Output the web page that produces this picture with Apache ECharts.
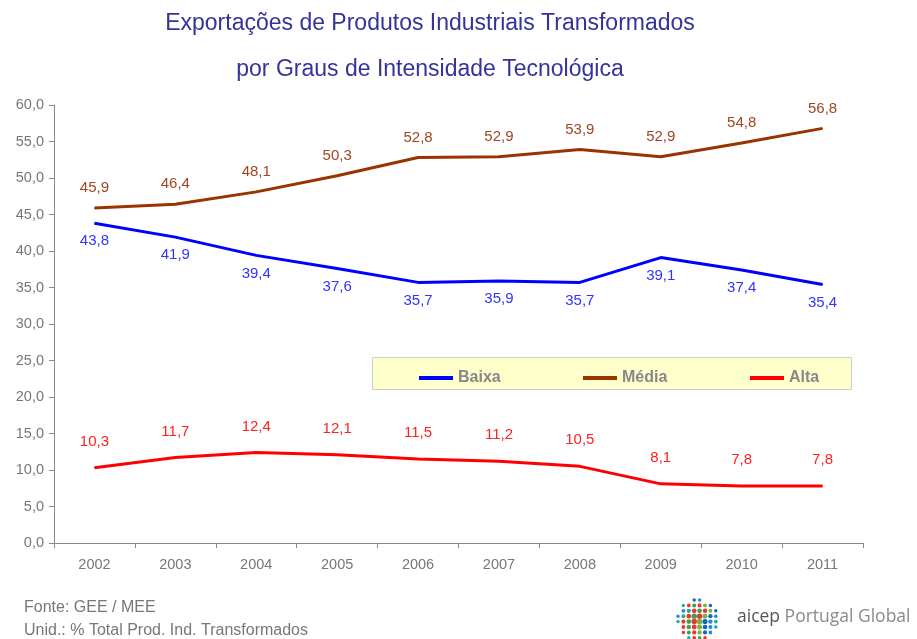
<!DOCTYPE html>
<html>
<head>
<meta charset="utf-8">
<title>Exportações por Graus de Intensidade Tecnológica</title>
<script src="https://cdn.jsdelivr.net/npm/echarts@6/dist/echarts.min.js"></script>
<style>
  html, body { margin: 0; padding: 0; background: #fff; }
  #chart { width: 917px; height: 639px; }
</style>
</head>
<body>
<div id="chart"></div>
<script>
// dados
const years = ['2002', '2003', '2004', '2005', '2006', '2007', '2008', '2009', '2010', '2011']
const baixa = [43.8, 41.9, 39.4, 37.6, 35.7, 35.9, 35.7, 39.1, 37.4, 35.4]
const media = [45.9, 46.4, 48.1, 50.3, 52.8, 52.9, 53.9, 52.9, 54.8, 56.8]
const alta = [10.3, 11.7, 12.4, 12.1, 11.5, 11.2, 10.5, 8.1, 7.8, 7.8]

const FONT = '"Liberation Sans", Arial, sans-serif'
const fmt = v => v.toFixed(1).replace('.', ',')

// pontinhos do logótipo (decoração)
function logoDots(cx, cy, r) {
  const colors = ['#e53935', '#1e88e5', '#43a047', '#1565c0', '#e53935', '#7cb342', '#26a69a']
  const dots = []
  let k = 0
  const step = 5.4
  for (let y = -r; y <= r + 0.1; y += step) {
    for (let x = -r; x <= r + 0.1; x += step) {
      const d = Math.sqrt(x * x + y * y)
      if (d > r + 1) continue
      const size = 1.7 + (1 - d / r) * 1.3
      dots.push({
        type: 'circle',
        shape: { cx: cx + x, cy: cy + y, r: size },
        style: { fill: colors[(k * 5 + 3) % colors.length] }
      })
      k++
    }
  }
  return dots
}

const chart = echarts.init(document.getElementById('chart'), null, { renderer: 'canvas' })

function lineSeries(name, data, color, labelColor, pos, dist) {
  return {
    name: name,
    type: 'line',
    data: data,
    symbol: 'circle',
    symbolSize: 1,
    lineStyle: { color: color, width: 3 },
    itemStyle: { color: color },
    label: {
      show: true,
      position: pos,
      distance: dist,
      color: labelColor,
      fontSize: 15,
      fontFamily: FONT,
      formatter: p => fmt(p.value)
    },
    emphasis: { disabled: true },
    animation: false
  }
}

function legendAt(left, name) {
  return {
    left: left,
    top: 365,
    data: [name],
    icon: 'rect',
    itemWidth: 34,
    itemHeight: 4,
    itemGap: 5,
    selectedMode: false,
    textStyle: { color: '#888', fontSize: 16, fontWeight: 'bold', fontFamily: FONT }
  }
}

const option = {
  backgroundColor: '#fff',
  title: {
    text: 'Exportações de Produtos Industriais Transformados\npor Graus de Intensidade Tecnológica',
    left: 425,
    textAlign: 'center',
    top: -4,
    textStyle: {
      color: '#333399',
      fontSize: 23,
      fontWeight: 'normal',
      fontFamily: FONT,
      lineHeight: 46
    }
  },
  grid: { left: 54, right: 54, top: 105, bottom: 96 },
  legend: [
    legendAt(414, 'Baixa'),
    legendAt(578, 'Média'),
    legendAt(745, 'Alta')
  ],
  xAxis: {
    type: 'category',
    data: years,
    boundaryGap: true,
    axisLine: { lineStyle: { color: '#888', width: 1 } },
    axisTick: { show: true, length: 5, lineStyle: { color: '#888' } },
    axisLabel: { color: '#777', fontSize: 14.5, fontFamily: FONT, margin: 14 }
  },
  yAxis: {
    type: 'value',
    min: 0,
    max: 60,
    interval: 5,
    axisLine: { show: true, lineStyle: { color: '#888', width: 1 } },
    axisTick: { show: true, length: 5, lineStyle: { color: '#888' } },
    splitLine: { show: false },
    axisLabel: { color: '#777', fontSize: 14.5, fontFamily: FONT, margin: 10, formatter: v => fmt(v) }
  },
  series: [
    lineSeries('Baixa', baixa, '#0000ff', '#3333ff', 'bottom', 10),
    lineSeries('Média', media, '#993300', '#a0461e', 'top', 12),
    lineSeries('Alta', alta, '#ff0000', '#ff2020', 'top', 18)
  ],
  graphic: [
    {
      type: 'rect',
      z: -1,
      shape: { x: 372.5, y: 357.5, width: 479, height: 32 },
      style: { fill: '#ffffcc', stroke: '#cccccc', lineWidth: 1 }
    },
    {
      type: 'text',
      left: 24,
      top: 600,
      style: { text: 'Fonte: GEE / MEE', fill: '#777', fontSize: 16, fontFamily: FONT }
    },
    {
      type: 'text',
      left: 24,
      top: 623,
      style: { text: 'Unid.: % Total Prod. Ind. Transformados', fill: '#777', fontSize: 16, fontFamily: FONT }
    },
    {
      type: 'group',
      children: logoDots(698, 620, 20)
    },
    {
      type: 'text',
      left: 737,
      top: 608,
      style: {
        text: '{a|aicep} {b|Portugal Global}',
        fontSize: 17.5,
        fontFamily: '"Open Sans", "DejaVu Sans", sans-serif',
        rich: {
          a: { fill: '#555', fontSize: 17.5, fontFamily: '"Open Sans", sans-serif' },
          b: { fill: '#8a8a8a', fontSize: 17.5, fontFamily: '"Open Sans", sans-serif' }
        }
      }
    }
  ]
}

chart.setOption(option)
</script>
</body>
</html>
